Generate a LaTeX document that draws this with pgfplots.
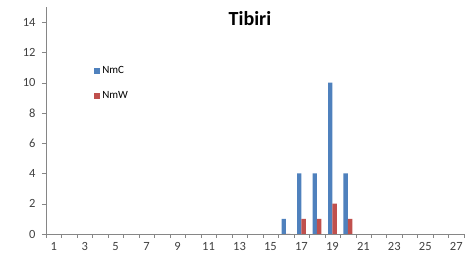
\documentclass[border=0pt]{standalone}
\usepackage{pgfplots}
\pgfplotsset{compat=1.18}
\usepackage{fontspec}
\setmainfont{Carlito}
\definecolor{exblue}{HTML}{4F81BD}
\definecolor{exred}{HTML}{C0504D}
\definecolor{axgray}{HTML}{868686}
\begin{document}
\begin{tikzpicture}
\begin{axis}[
  scale only axis,
  width=418pt, height=227pt,
  xmin=0.5, xmax=27.5,
  ymin=0, ymax=15,
  ytick={0,2,...,14},
  xtick={0.5,1.5,...,27.5},
  xticklabels={},
  extra x ticks={1,3,...,27},
  extra x tick style={major tick length=0pt, tick label style={yshift=-5pt}},
  extra x tick labels={1,3,5,7,9,11,13,15,17,19,21,23,25,27},
  axis x line*=bottom,
  axis y line*=left,
  axis line style={-, draw=axgray},
  tick style={draw=axgray},
  tick align=outside,
  major tick length=4pt,
  tick label style={font=\fontsize{12.5}{14}\selectfont, text=black!75},
  yticklabel style={xshift=-3pt},
  /pgf/number format/assume math mode=true,
  ybar=0pt,
  bar width=4.4pt,
  legend style={draw=none, fill=none, at={(rel axis cs:0.108,0.755)}, anchor=north west,
    font=\fontsize{11}{12}\selectfont, row sep=12pt},
  legend cell align=left,
  legend image code/.code={\fill[#1] (0pt,-3pt) rectangle (6pt,3pt);},
  clip=false,
]
\addplot[fill=exblue, draw=none] coordinates {(16,1) (17,4) (18,4) (19,10) (20,4)};
\addlegendentry{NmC}
\addplot[fill=exred, draw=none] coordinates {(16,0) (17,1) (18,1) (19,2) (20,1)};
\addlegendentry{NmW}
\node[font=\fontsize{20}{22}\selectfont\bfseries, anchor=center] at (rel axis cs:0.488,0.95) {Tibiri};
\end{axis}
\path[use as bounding box] ([xshift=-46pt,yshift=-23pt]current axis.south west) rectangle ([xshift=5pt,yshift=7pt]current axis.north east);
\end{tikzpicture}
\end{document}
